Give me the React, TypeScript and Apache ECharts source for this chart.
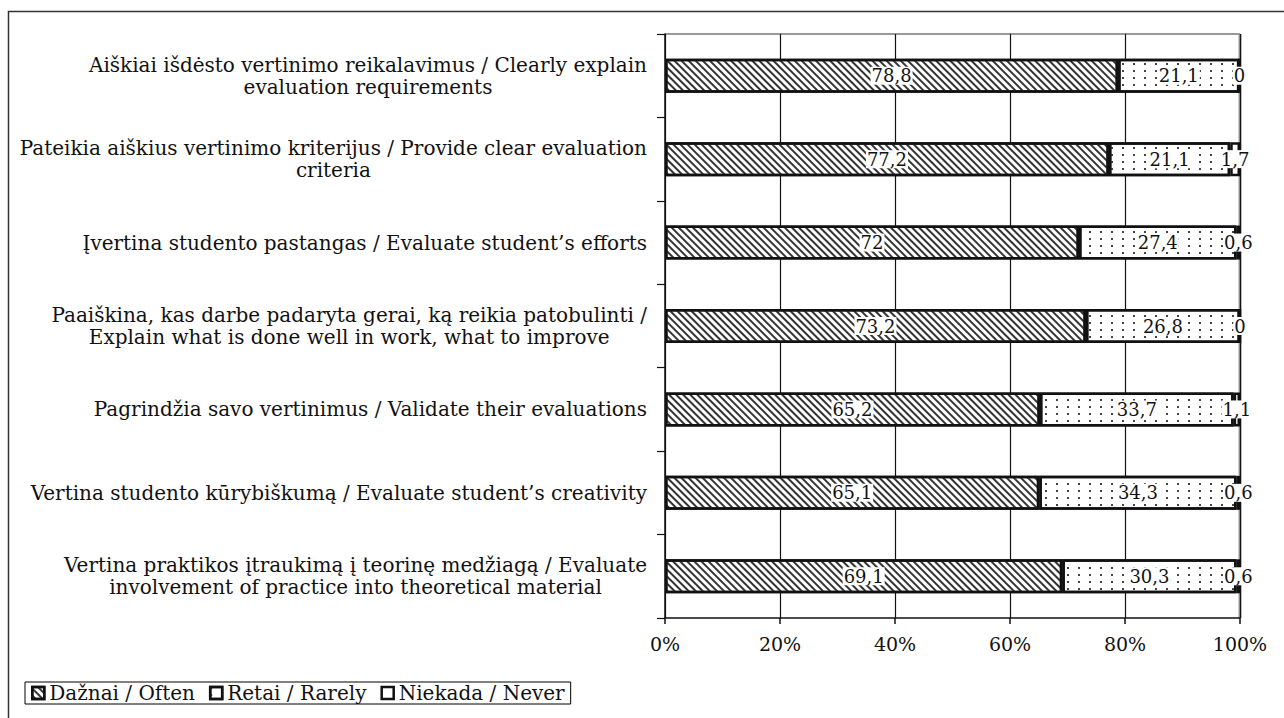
import React, { useEffect, useRef } from "react";
import * as echarts from "echarts";

const categories: string[] = [
  "Aiškiai išdėsto vertinimo reikalavimus / Clearly explain\nevaluation requirements",
  "Pateikia aiškius vertinimo kriterijus / Provide clear evaluation\ncriteria",
  "Įvertina studento pastangas / Evaluate student’s efforts",
  "Paaiškina, kas darbe padaryta gerai, ką reikia patobulinti /\nExplain what is done well in work, what to improve",
  "Pagrindžia savo vertinimus / Validate their evaluations",
  "Vertina studento kūrybiškumą / Evaluate student’s creativity",
  "Vertina praktikos įtraukimą į teorinę medžiagą / Evaluate\ninvolvement of practice into theoretical material",
];

const often: number[] = [78.8, 77.2, 72, 73.2, 65.2, 65.1, 69.1];
const rarely: number[] = [21.1, 21.1, 27.4, 26.8, 33.7, 34.3, 30.3];
const never: number[] = [0, 1.7, 0.6, 0, 1.1, 0.6, 0.6];

const seriesNames: string[] = ["Dažnai / Often", "Retai / Rarely", "Niekada / Never"];
const xTicks: number[] = [0, 20, 40, 60, 80, 100];

const FONT = "DejaVu Serif";

export default function App() {
  const ref = useRef<HTMLDivElement>(null);

  useEffect(() => {
    document.body.style.margin = "0";
    document.body.style.overflow = "hidden";
    if (!ref.current) return;
    const chart = echarts.init(ref.current, undefined, { renderer: "svg" });

    const label = {
      show: true,
      position: "inside",
      fontFamily: FONT,
      fontSize: 18,
      color: "#111",
      backgroundColor: "#fff",
      padding: [0, 1],
      formatter: (p: any) => String(p.value).replace(".", ","),
    };

    const decals = [
      {
        symbol: "rect",
        symbolSize: 1,
        dashArrayX: [1, 0],
        dashArrayY: [1.5, 2.3],
        rotation: Math.PI / 4,
        color: "#333",
      },
      {
        symbol: "rect",
        symbolSize: 1,
        dashArrayX: [1.6, 9],
        dashArrayY: [1.6, 4.5],
        rotation: 0,
        color: "#444",
      },
      null,
    ];

    const datas = [often, rarely, never];

    const option: any = {
      animation: false,
      backgroundColor: "#fff",
      graphic: [
        {
          type: "rect",
          shape: { x: 8.5, y: 11.5, width: 1400, height: 800 },
          style: { fill: "none", stroke: "#333", lineWidth: 1.5 },
          silent: true,
        },
        {
          type: "line",
          shape: { x1: 665, y1: 34, x2: 1240, y2: 34 },
          style: { stroke: "#999", lineWidth: 2 },
          silent: true,
          z: -1,
        },
        {
          type: "line",
          shape: { x1: 1240, y1: 34, x2: 1240, y2: 618 },
          style: { stroke: "#999", lineWidth: 3 },
          silent: true,
          z: -1,
        },
      ],
      grid: { left: 665, right: 44, top: 34, bottom: 100, containLabel: false, show: false },
      legend: {
        left: 25,
        bottom: 14,
        orient: "horizontal",
        data: seriesNames,
        itemWidth: 12,
        itemHeight: 12,
        itemGap: 14,
        padding: [1, 6],
        borderColor: "#000",
        borderWidth: 1,
        icon: "rect",
        itemStyle: { borderWidth: 2.5, borderColor: "#111" },
        textStyle: { fontFamily: FONT, fontSize: 20, lineHeight: 20, color: "#111", padding: [0, 0, 0, 0] },
      },
      xAxis: {
        type: "value",
        min: 0,
        max: 100,
        interval: 20,
        axisLine: { show: true, lineStyle: { color: "#111", width: 1.5 } },
        axisTick: { show: true, length: 6, lineStyle: { color: "#111", width: 1.5 } },
        axisLabel: {
          margin: 16,
          fontFamily: FONT,
          fontSize: 19,
          color: "#111",
          formatter: (v: number) => (xTicks.includes(v) ? `${v}%` : ""),
        },
        splitLine: { show: true, lineStyle: { color: "#111", width: 1.2 } },
      },
      yAxis: {
        type: "category",
        data: categories,
        inverse: true,
        axisLine: { show: true, lineStyle: { color: "#111", width: 1.5 } },
        axisTick: { show: true, length: 8, inside: false, lineStyle: { color: "#111", width: 1.2 } },
        axisLabel: {
          margin: 18,
          align: "right",
          formatter: (v: string) =>
            v
              .split("\n")
              .map((l) => `{c|${l}}`)
              .join("\n"),
          rich: {
            c: { align: "center", fontFamily: FONT, fontSize: 20, lineHeight: 22, color: "#111" },
          },
        },
      },
      series: datas.map((d, i) => ({
        name: seriesNames[i],
        type: "bar",
        stack: "total",
        barWidth: 34,
        data: d,
        label,
        itemStyle: {
          color: "#fff",
          borderColor: "#111",
          borderWidth: 2.5,
          decal: decals[i] || undefined,
        },
        emphasis: { disabled: true },
      })),
    };

    chart.setOption(option);
    return () => chart.dispose();
  }, []);

  return <div ref={ref} style={{ width: 1284, height: 718 }} />;
}
